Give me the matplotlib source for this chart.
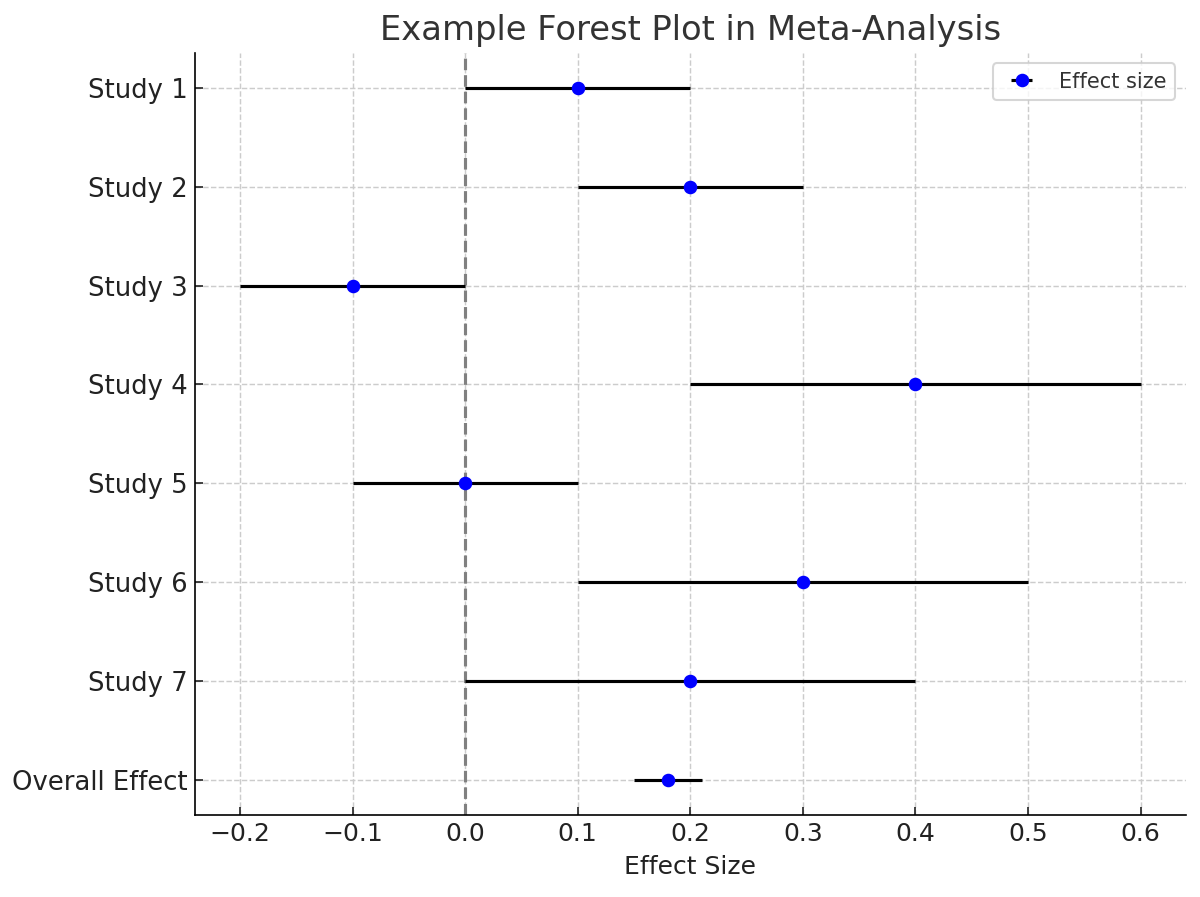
import numpy as np
import matplotlib.pyplot as plt

# data
studies = ["Study 1", "Study 2", "Study 3", "Study 4", "Study 5", "Study 6", "Study 7", "Overall Effect"]
effects = [0.1, 0.2, -0.1, 0.4, 0.0, 0.3, 0.2, 0.18]
ci_low = [0.0, 0.1, -0.2, 0.2, -0.1, 0.1, 0.0, 0.15]
ci_high = [0.2, 0.3, 0.0, 0.6, 0.1, 0.5, 0.4, 0.21]

effects = np.array(effects)
err = [effects - np.array(ci_low), np.array(ci_high) - effects]
ypos = np.arange(len(studies))

fig, ax = plt.subplots(figsize=(8, 5.98), dpi=150)
fig.subplots_adjust(left=0.1625, right=0.988, top=0.941, bottom=0.0914)

ax.errorbar(effects, ypos, xerr=err, fmt='o', color='blue', ecolor='black',
            elinewidth=1.5, capsize=0, markersize=5.5, label='Effect size', zorder=3)
ax.axvline(0, color='gray', linestyle='--', linewidth=1.5, zorder=2)

ax.set_yticks(ypos)
ax.set_yticklabels(studies)
ax.invert_yaxis()
ax.set_xlabel("Effect Size", fontsize=12, color='#222222')
ax.set_title("Example Forest Plot in Meta-Analysis", fontsize=16.2, color='#333333')

ax.grid(True, linestyle='--', color='#cccccc', linewidth=0.7)
ax.set_axisbelow(True)
ax.tick_params(direction='in', labelsize=12, length=4, colors='#222222')
ax.tick_params(axis='y', labelsize=12.4)
for s in ['top', 'right']:
    ax.spines[s].set_visible(False)

leg = ax.legend(loc='upper right', fontsize=10)
for t in leg.get_texts():
    t.set_color('#333333')

plt.savefig("out.png", dpi=150)
